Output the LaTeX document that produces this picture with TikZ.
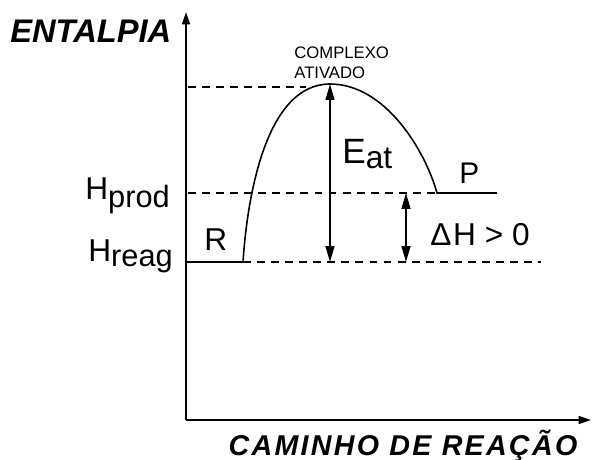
\documentclass[tikz,border=0pt]{standalone}
\usepackage{fontspec}
\setmainfont{Liberation Sans}
\usetikzlibrary{arrows.meta}

\newcommand{\fsz}[1]{\fontsize{#1}{#1}\selectfont}

\tikzset{
  axis/.style={line width=1pt, -{Triangle[length=7pt,width=4.5pt]}},
  level/.style={line width=0.9pt},
  guide/.style={line width=0.8pt, dash pattern=on 4.5pt off 3.5pt},
  energy/.style={line width=0.9pt, {Triangle[length=9pt,width=5pt]}-{Triangle[length=9pt,width=5pt]}},
  lbl/.style={inner sep=0pt, anchor=base west},
}

\begin{document}
\begin{tikzpicture}[x=0.02cm, y=-0.02cm]
\useasboundingbox (0,0) rectangle (592,460);
% points of the diagram
\coordinate (O) at (186,420);
\coordinate (ytop) at (186,12);
\coordinate (xend) at (591,420);
\coordinate (r0) at (186,262);
\coordinate (r1) at (243,262);
\coordinate (peak) at (330,84);
\coordinate (p0) at (437,193);
\coordinate (p1) at (497,193);
\coordinate (hp0) at (188,193);
\coordinate (ht0) at (188,87);
\coordinate (ht1) at (306,87);
\coordinate (hr1) at (541,262);
\coordinate (ea0) at (330,262);
\coordinate (dh0) at (406,193);
\coordinate (dh1) at (406,262);
% axes
\draw[axis] (O) -- (ytop);
\draw[axis] (O) -- (xend);
\node[lbl] (ent) at (10,42) {\fsz{18.6}\bfseries\itshape ENTALPIA};
\node[inner sep=0pt, anchor=base] (cam) at (403,455) {\fsz{16.3}\bfseries\itshape\addfontfeatures{LetterSpace=8}CAMINHO DE REAÇÃO};
% dashed levels
\draw[guide] (ht0) -- (ht1);
\draw[guide] (hp0) -- (p0);
\draw[guide] (r1) -- (hr1);
% reaction path
\draw[level] (r0) -- (r1) .. controls (247,200) and (265,84) .. (peak)
  .. controls (385,84) and (425,150) .. (p0) -- (p1);
% arrows
\draw[energy] (peak) -- (ea0);
\draw[energy] (dh0) -- (dh1);
% labels
\node[lbl] (hprod) at (85,199) {\fsz{18}H\raisebox{-5pt}{\fsz{17.5}prod}};
\node[lbl] (hreag) at (88,261) {\fsz{18}H\raisebox{-3pt}{\fsz{17.5}reag}};
\node[lbl] (lblR) at (204,250) {\fsz{18}R};
\node[lbl] (lblP) at (459,183) {\fsz{17}P};
\node[lbl] (eat) at (342,163) {\fsz{20}E\raisebox{-3pt}{\fsz{18}at}};
\node[lbl] (dh) at (430,245) {\fsz{18}Δ\kern1pt H \textgreater{} 0};
\node[lbl] (cx1) at (294,58) {\fsz{9.5}COMPLEXO};
\node[lbl] (cx2) at (294,78) {\fsz{9.5}ATIVADO};
\end{tikzpicture}
\end{document}
